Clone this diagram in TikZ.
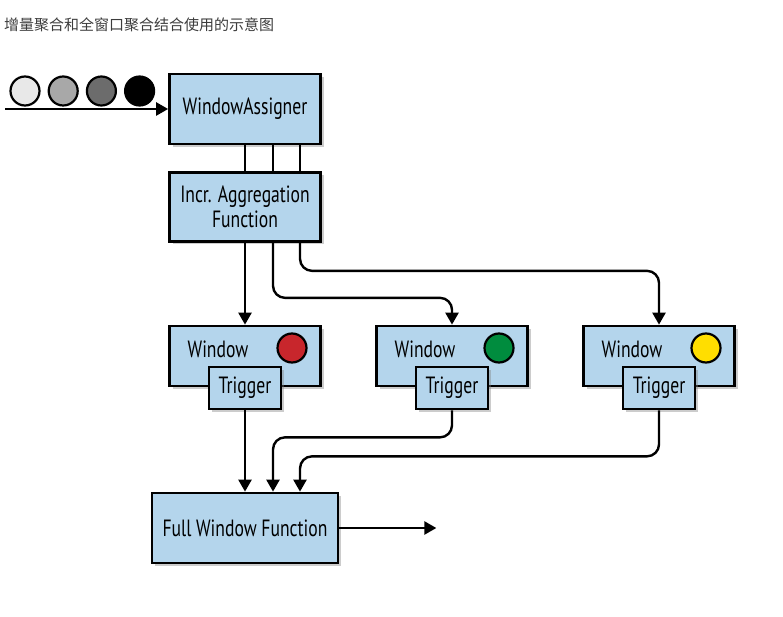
\documentclass[tikz,border=0pt]{standalone}
\usepackage{fontspec}
\setmainfont{PT Sans}[FakeStretch=0.75]
\newfontfamily\cjk{Noto Sans CJK SC}
\usetikzlibrary{positioning,shadows,arrows.meta}

\definecolor{boxblue}{RGB}{180,213,236}
\definecolor{titlegray}{RGB}{60,60,60}
\definecolor{evlight}{RGB}{232,232,232}
\definecolor{evmid}{RGB}{168,168,168}
\definecolor{evdark}{RGB}{108,108,108}
\definecolor{lampred}{RGB}{200,38,44}
\definecolor{lampgreen}{RGB}{0,140,62}
\definecolor{lampyellow}{RGB}{255,222,0}

\begin{document}
\begin{tikzpicture}[x=1pt, y=-1pt,
    block/.style={rectangle, draw, line width=2.7pt, fill=boxblue, inner sep=0pt,
        drop shadow={shadow xshift=3pt, shadow yshift=-3pt, opacity=0.4},
        font=\fontsize{23.5}{25}\selectfont, align=center},
    wire/.style={line width=2.4pt, rounded corners=12pt},
    flow/.style={wire, -{Stealth[inset=0pt, length=12pt, width=13pt]}},
    event/.style={circle, draw, line width=2.2pt, minimum size=29pt, inner sep=0pt},
    lamp/.style={circle, draw, line width=2.2pt, minimum size=29pt, inner sep=0pt},
    wlabel/.style={font=\fontsize{23.5}{25}\selectfont, inner sep=0pt}]

    \useasboundingbox (0,0) rectangle (783,617);

    \node[anchor=west, inner sep=0pt, text=titlegray, font=\cjk\fontsize{15}{17}\selectfont] (title) at (4,25) {增量聚合和全窗口聚合结合使用的示意图};

    %% incoming events
    \node[event, fill=evlight] (ev1) at (25,91) {};
    \node[event, fill=evmid, right=7pt of ev1] (ev2) {};
    \node[event, fill=evdark, right=7pt of ev2] (ev3) {};
    \node[event, fill=black, right=7pt of ev3] (ev4) {};
    \coordinate (in) at (5,109);

    \node[block, minimum width=151pt, minimum height=70pt] (assigner) at (245,109) {WindowAssigner};
    \node[block, minimum width=151pt, minimum height=69pt] (incr) at (245,207) {Incr. Aggregation\\Function};

    \draw[flow] (in) -- (assigner);
    \draw[wire] (assigner.south) -- (incr.north);
    \draw[wire] ([xshift=28pt]assigner.south) -- ([xshift=28pt]incr.north);
    \draw[wire] ([xshift=55pt]assigner.south) -- ([xshift=55pt]incr.north);

    %% windows
    \node[block, minimum width=151pt, minimum height=60pt] (win1) at (245,356) {};
    \node[wlabel] (win1txt) at ([xshift=-27pt, yshift=7pt]win1.center) {Window};
    \node[lamp, fill=lampred] (lamp1) at ([xshift=47pt, yshift=8pt]win1.center) {};
    \node[block, minimum width=72pt, minimum height=42pt] (trig1) at ([yshift=-32pt]win1.center) {Trigger};

    \node[block, minimum width=151pt, minimum height=60pt] (win2) at (452,356) {};
    \node[wlabel] (win2txt) at ([xshift=-27pt, yshift=7pt]win2.center) {Window};
    \node[lamp, fill=lampgreen] (lamp2) at ([xshift=47pt, yshift=8pt]win2.center) {};
    \node[block, minimum width=72pt, minimum height=42pt] (trig2) at ([yshift=-32pt]win2.center) {Trigger};

    \node[block, minimum width=151pt, minimum height=60pt] (win3) at (659,356) {};
    \node[wlabel] (win3txt) at ([xshift=-27pt, yshift=7pt]win3.center) {Window};
    \node[lamp, fill=lampyellow] (lamp3) at ([xshift=47pt, yshift=8pt]win3.center) {};
    \node[block, minimum width=72pt, minimum height=42pt] (trig3) at ([yshift=-32pt]win3.center) {Trigger};

    \draw[flow] (incr.south) -- (win1.north);
    \draw[flow] ([xshift=28pt]incr.south) -- ++(0,55) -| (win2.north);
    \draw[flow] ([xshift=55pt]incr.south) -- ++(0,28) -| (win3.north);

    %% full window function
    \node[block, minimum width=186pt, minimum height=70pt] (full) at (245,528) {Full Window Function};
    \coordinate[right=97pt of full] (out);

    \draw[flow] (trig1.south) -- (full.north);
    \draw[flow] (trig2.south) -- ++(0,27) -| ([xshift=28pt]full.north);
    \draw[flow] (trig3.south) -- ++(0,46) -| ([xshift=55pt]full.north);
    \draw[flow] (full) -- (out);

\end{tikzpicture}
\end{document}
